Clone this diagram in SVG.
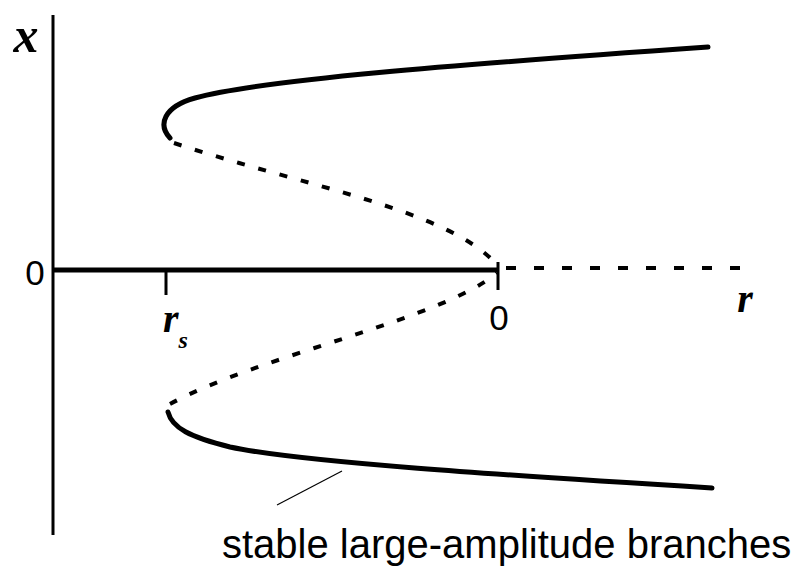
<svg xmlns="http://www.w3.org/2000/svg" width="801" height="567" viewBox="0 0 801 567">
<style>
.axis{stroke:#000;fill:none;stroke-linecap:butt}
.stable{stroke:#000;stroke-width:5;fill:none;stroke-linecap:round}
.unstable{stroke:#000;stroke-width:4;fill:none;stroke-dasharray:8 14}
.lbl{font-family:"Liberation Serif",serif;font-style:italic;font-weight:bold;fill:#000}
.num{font-family:"Liberation Sans",sans-serif;fill:#000}
</style>
<rect width="801" height="567" fill="#fff"/>
<g id="axes">
<line class="axis" x1="53" y1="15" x2="53" y2="535" stroke-width="3"/>
<line class="axis" x1="54" y1="270" x2="498" y2="270" stroke-width="5"/>
<line class="axis" x1="506" y1="268" x2="748" y2="268" stroke-width="4" stroke-dasharray="10 18"/>
<line class="axis" x1="166" y1="270" x2="166" y2="295" stroke-width="3"/>
<line class="axis" x1="498" y1="262" x2="498" y2="290" stroke-width="3"/>
</g>
<g id="labels">
<text class="lbl" x="26" y="52" font-size="50" text-anchor="middle">x</text>
<text class="num" x="35" y="285" font-size="35" text-anchor="middle">0</text>
<text class="lbl" x="163" y="332" font-size="40">r<tspan font-size="24" dy="16">s</tspan></text>
<text class="num" x="499" y="330" font-size="35" text-anchor="middle">0</text>
<text class="lbl" x="745" y="312" font-size="40" text-anchor="middle">r</text>
</g>
<g id="upper-branch">
<path class="stable" d="M170,138 C158,125 163,107 195,98 C260,80 450,65 708,47"/>
<path class="unstable" d="M174,143 C300,185 450,210 497,265"/>
</g>
<g id="lower-branch">
<path class="stable" d="M168,412 C172,428 190,437 230,447 C300,462 500,475 712,488"/>
<path class="unstable" d="M170,404 C260,355 440,320 497,273"/>
</g>
<g id="connectors">
<line x1="342" y1="471" x2="277" y2="505" stroke="#000" stroke-width="1.2"/>
</g>
<g id="annotation">
<text class="num" x="222" y="558" font-size="40">stable large-amplitude branches</text>
</g>
</svg>
